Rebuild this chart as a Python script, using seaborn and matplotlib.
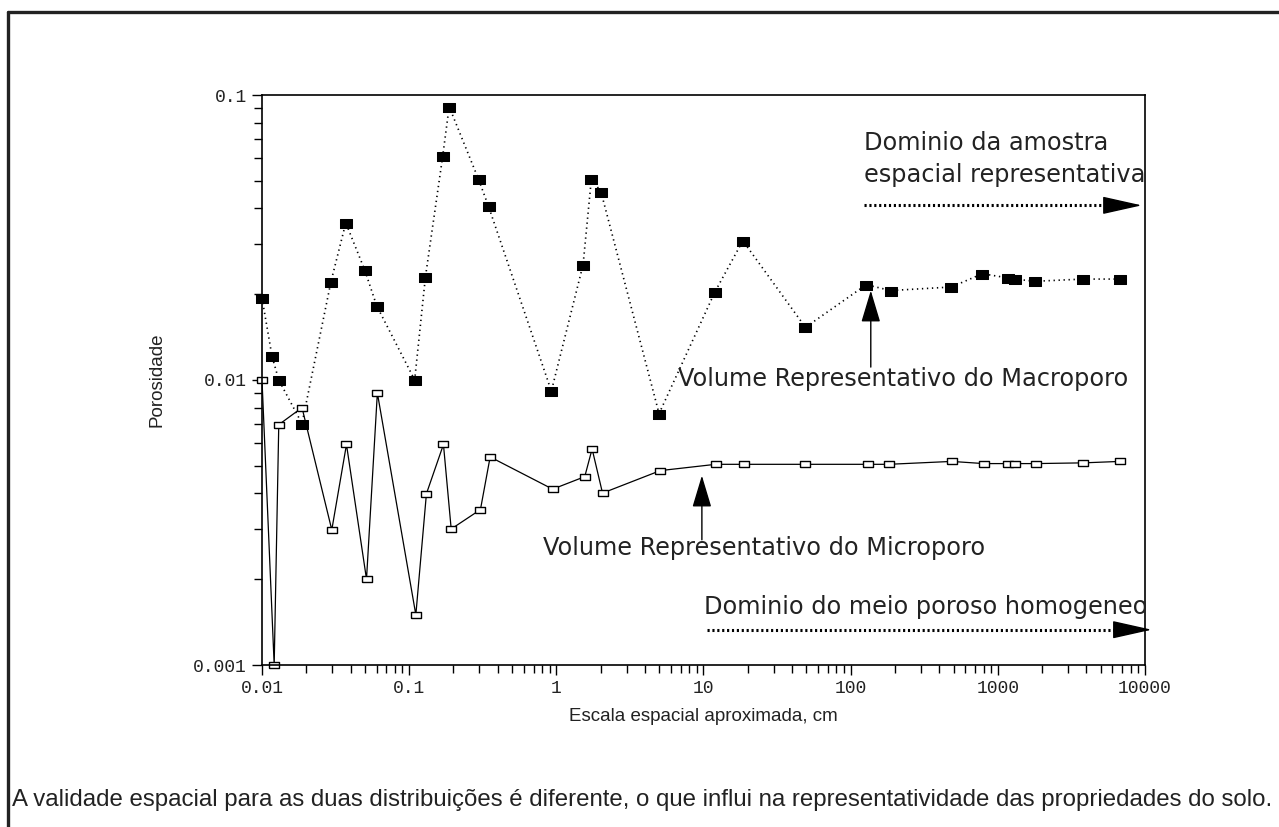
import seaborn as sns
import matplotlib.pyplot as plt
from matplotlib.ticker import NullFormatter, LogLocator
from matplotlib.lines import Line2D

# ---------- values ---------- #
macro_x = [0.01, 0.0117, 0.0130, 0.0187, 0.0294, 0.0371, 0.0499, 0.0602, 0.109, 0.129,
           0.169, 0.187, 0.296, 0.346, 0.925, 1.52, 1.73, 2.01, 4.99, 11.97,
           18.5, 49.3, 127.7, 186.6, 484, 785, 1178, 1300, 1787, 3800, 6730]
macro_y = [0.0194, 0.0121, 0.0100, 0.00703, 0.0221, 0.0356, 0.0243, 0.0182, 0.0100, 0.0230,
           0.0610, 0.0910, 0.0506, 0.0407, 0.00914, 0.0254, 0.0507, 0.0458, 0.00762, 0.0204,
           0.0308, 0.0153, 0.0216, 0.0206, 0.0212, 0.0236, 0.0228, 0.0226, 0.0222, 0.0226, 0.0226]

micro_x = [0.01, 0.0121, 0.0130, 0.0187, 0.0298, 0.0375, 0.0513, 0.0608, 0.111, 0.131,
           0.171, 0.193, 0.305, 0.355, 0.944, 1.56, 1.75, 2.06, 5.09, 12.1,
           18.8, 49.3, 131, 181, 486, 802, 1165, 1309, 1804, 3817, 6765]
micro_y = [0.0100, 0.0010, 0.00697, 0.0080, 0.00298, 0.00594, 0.00200, 0.00901, 0.00150, 0.00399,
           0.00594, 0.00300, 0.00351, 0.00537, 0.00414, 0.00458, 0.00573, 0.00401, 0.00481, 0.00506,
           0.00506, 0.00506, 0.00506, 0.00506, 0.00518, 0.00509, 0.00509, 0.00509, 0.00509, 0.00512, 0.00518]

x_ticks = [0.01, 0.1, 1, 10, 100, 1000, 10000]
x_labels = ['0.01', '0.1', '1', '10', '100', '1000', '10000']
y_ticks = [0.001, 0.01, 0.1]
y_labels = ['0.001', '0.01', '0.1']

caption = ('A validade espacial para as duas distribuições é diferente, '
           'o que influi na representatividade das propriedades do solo.')

# ---------- style ---------- #
sns.set_style('ticks')
plt.rcParams['font.family'] = ['Liberation Sans', 'DejaVu Sans']
plt.rcParams['axes.edgecolor'] = 'black'
plt.rcParams['axes.linewidth'] = 1.2

fig = plt.figure(figsize=(12.79, 8.27), dpi=100)
ax = fig.add_axes([262 / 1279, 1 - 665 / 827, 883 / 1279, 570 / 827])

rect = [(-1, -0.72), (1, -0.72), (1, 0.72), (-1, 0.72), (-1, -0.72)]

sns.lineplot(x=macro_x, y=macro_y, ax=ax, estimator=None, sort=False,
             color='black', lw=1.2, linestyle=(0, (0.8, 2.2)), clip_on=False,
             marker=rect, markersize=9, markerfacecolor='black', markeredgecolor='black')
sns.lineplot(x=micro_x, y=micro_y, ax=ax, estimator=None, sort=False,
             color='black', lw=0.9, clip_on=False,
             marker=rect, markersize=7, markerfacecolor='white', markeredgecolor='black',
             markeredgewidth=1.0)

ax.set_xscale('log')
ax.set_yscale('log')
ax.set_xlim(0.01, 10000)
ax.set_ylim(0.001, 0.1)

ax.set_xticks(x_ticks)
ax.set_xticklabels(x_labels)
ax.set_yticks(y_ticks)
ax.set_yticklabels(y_labels)
ax.xaxis.set_minor_locator(LogLocator(base=10, subs=range(2, 10)))
ax.yaxis.set_minor_locator(LogLocator(base=10, subs=range(2, 10)))
ax.xaxis.set_minor_formatter(NullFormatter())
ax.yaxis.set_minor_formatter(NullFormatter())
ax.tick_params(which='both', direction='out', color='black', width=1.0)
ax.tick_params(which='major', length=7, pad=4)
ax.tick_params(which='minor', length=6)
for lab in ax.get_xticklabels() + ax.get_yticklabels():
    lab.set_fontfamily('Liberation Mono')
    lab.set_fontsize(13)
    lab.set_color('#222222')

ax.set_xlabel('Escala espacial aproximada, cm', fontsize=13.5, color='#222222', labelpad=8)
ax.set_ylabel('Porosidade', fontsize=13.5, color='#222222', labelpad=20)

# ---------- annotations ---------- #
txt = dict(fontsize=17.3, family='DejaVu Sans', color='#222222', va='center')
ax.text(123, 0.0678, 'Dominio da amostra', **txt)
ax.text(123, 0.0522, 'espacial representativa', **txt)
ax.text(6.7, 0.0101, 'Volume Representativo do Macroporo', **txt)
ax.text(0.811, 0.00258, 'Volume Representativo do Microporo', **txt)
ax.text(10.07, 0.0016, 'Dominio do meio poroso homogeneo', **txt)

head = dict(arrowstyle='-|>,head_length=1.0,head_width=0.3', color='black',
            lw=1.0, mutation_scale=20, shrinkA=0, shrinkB=0)
ax.annotate('', xy=(137, 0.0206), xytext=(137, 0.0111), arrowprops=head)
ax.annotate('', xy=(9.75, 0.00462), xytext=(9.75, 0.00275), arrowprops=head)

long_head = dict(arrowstyle='-|>,head_length=1.25,head_width=0.28', color='black',
                 lw=1.0, mutation_scale=20, shrinkA=0, shrinkB=0)
ax.plot([123, 5600], [0.041, 0.041], color='black', lw=2.2, ls=(0, (0.7, 0.9)))
ax.annotate('', xy=(9500, 0.041), xytext=(5500, 0.041), arrowprops=long_head)
ax.plot([10.5, 6600], [0.00133, 0.00133], color='black', lw=2.2, ls=(0, (0.7, 0.9)),
        clip_on=False)
ax.annotate('', xy=(11100, 0.00133), xytext=(6500, 0.00133), arrowprops=long_head,
            annotation_clip=False)

# ---------- outer frame and caption ---------- #
fig.add_artist(Line2D([8 / 1279, 1], [1 - 12 / 827, 1 - 12 / 827], color='#222222', lw=2.4))
fig.add_artist(Line2D([8 / 1279, 8 / 1279], [0, 1 - 12 / 827], color='#222222', lw=2.4))
fig.text(12 / 1279, 1 - 800 / 827, caption, fontsize=17.3, color='#222222', va='center',
         family=['Liberation Sans', 'DejaVu Sans'])

fig.savefig('out.png', dpi=100)
